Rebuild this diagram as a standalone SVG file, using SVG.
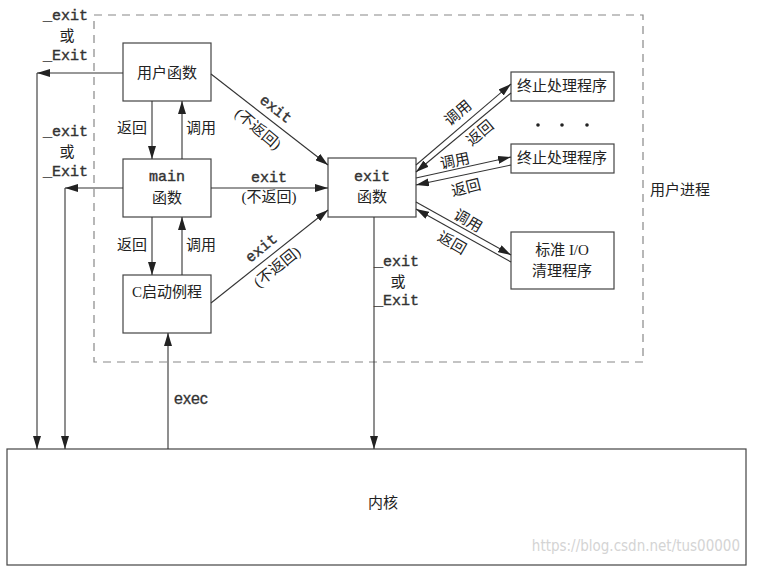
<svg xmlns="http://www.w3.org/2000/svg" width="761" height="571" viewBox="0 0 761 571">
<defs>
<marker id="ah" markerUnits="userSpaceOnUse" markerWidth="13" markerHeight="8" refX="13" refY="4" orient="auto">
<path d="M0,0 L13,4 L0,8 z" fill="#222"/>
</marker>
<style>
.box{fill:#fff;stroke:#444;stroke-width:1.2}
.ln{fill:none;stroke:#333;stroke-width:1.1}
.ar{fill:none;stroke:#333;stroke-width:1.1;marker-end:url(#ah)}
.cn{font-family:"Liberation Serif","Noto Sans CJK SC",serif;font-size:15px;fill:#222}
.mo{font-family:"Liberation Mono","DejaVu Sans Mono",monospace;font-size:15px;fill:#333;stroke:#333;stroke-width:0.4}
.c{text-anchor:middle}
.m{dominant-baseline:central}
</style>
</defs>
<rect width="761" height="571" fill="#fff"/>

<g id="userprocess">
<rect x="94" y="15" width="549" height="347" fill="none" stroke="#888" stroke-width="1.2" stroke-dasharray="8,6"/>
<text class="cn" x="650" y="195">用户进程</text>
</g>

<g id="kernel">
<rect class="box" x="7" y="449" width="739" height="116"/>
<text class="cn c m" x="383" y="503">内核</text>
</g>

<g id="userfunc">
<rect class="box" x="123" y="43" width="88" height="58"/>
<text class="cn c m" x="167" y="73">用户函数</text>
</g>

<g id="main">
<rect class="box" x="123" y="159" width="88" height="58"/>
<text class="mo c m" x="167" y="177">main</text>
<text class="cn c m" x="167" y="198">函数</text>
</g>

<g id="cstart">
<rect class="box" x="123" y="275" width="88" height="58"/>
<text class="cn c m" x="167" y="292">C启动例程</text>
</g>

<g id="exitfunc">
<rect class="box" x="328" y="158" width="88" height="59"/>
<text class="mo c m" x="372" y="177">exit</text>
<text class="cn c m" x="372" y="197">函数</text>
</g>

<g id="handler1">
<rect class="box" x="511" y="72" width="103" height="29"/>
<text class="cn c m" x="562" y="86">终止处理程序</text>
</g>

<g id="dots">
<circle cx="538" cy="125" r="1.8" fill="#222"/>
<circle cx="562" cy="125" r="1.8" fill="#222"/>
<circle cx="587" cy="125" r="1.8" fill="#222"/>
</g>

<g id="handler2">
<rect class="box" x="511" y="144" width="103" height="29"/>
<text class="cn c m" x="562" y="158">终止处理程序</text>
</g>

<g id="stdio">
<rect class="box" x="511" y="232" width="103" height="57"/>
<text class="cn c m" x="562" y="250">标准 I/O</text>
<text class="cn c m" x="562" y="271">清理程序</text>
</g>

<g id="connectors">
<path class="ar" d="M123,73 L37,73"/>
<path class="ar" d="M37,73 L37,449"/>
<text class="mo" x="43" y="20">_exit</text>
<text class="cn c" x="67" y="41">或</text>
<text class="mo" x="43" y="60">_Exit</text>
<path class="ar" d="M123,188 L65,188"/>
<path class="ar" d="M65,188 L65,449"/>
<text class="mo" x="43" y="136">_exit</text>
<text class="cn c" x="67" y="157">或</text>
<text class="mo" x="43" y="176">_Exit</text>
<path class="ar" d="M152,101 L152,159"/>
<path class="ar" d="M182,159 L182,101"/>
<text class="cn c m" x="132" y="128">返回</text>
<text class="cn c m" x="201" y="128">调用</text>
<path class="ar" d="M152,217 L152,275"/>
<path class="ar" d="M182,275 L182,217"/>
<text class="cn c m" x="132" y="245">返回</text>
<text class="cn c m" x="201" y="245">调用</text>
<path class="ar" d="M168,449 L168,333"/>
<text x="174" y="404" style="font-family:'Liberation Sans',Arial,sans-serif;font-size:16px;fill:#333;stroke:#333;stroke-width:0.3">exec</text>
<path class="ar" d="M211,74 L328,165"/>
<text class="mo c m" transform="translate(275,110) rotate(38)">exit</text>
<text class="cn c m" transform="translate(258,129) rotate(40)">(不返回)</text>
<path class="ar" d="M211,188 L328,188"/>
<text class="mo c m" x="269" y="178">exit</text>
<text class="cn c m" x="269" y="197">(不返回)</text>
<path class="ar" d="M211,303 L328,210"/>
<text class="mo c m" transform="translate(262,249) rotate(-39)">exit</text>
<text class="cn c m" transform="translate(277,267) rotate(-39)">(不返回)</text>
<path class="ar" d="M374,217 L374,449"/>
<text class="mo" x="374" y="266">_exit</text>
<text class="cn c" x="398" y="287">或</text>
<text class="mo" x="374" y="305">_Exit</text>
<path class="ar" d="M416,165 L511,84"/>
<path class="ar" d="M511,93 L416,172"/>
<text class="cn c m" transform="translate(458,113) rotate(-40)">调用</text>
<text class="cn c m" transform="translate(480,133) rotate(-40)">返回</text>
<path class="ar" d="M416,178 L511,157"/>
<path class="ar" d="M511,165 L416,185"/>
<text class="cn c m" transform="translate(455,161) rotate(-12)">调用</text>
<text class="cn c m" transform="translate(466,188) rotate(-14)">返回</text>
<path class="ar" d="M416,202 L511,255"/>
<path class="ar" d="M511,262 L416,209"/>
<text class="cn c m" transform="translate(468,221) rotate(30)">调用</text>
<text class="cn c m" transform="translate(452,243) rotate(30)">返回</text>
</g>

<text x="740" y="551" text-anchor="end" style="font-family:'DejaVu Sans Condensed','Liberation Sans',sans-serif;font-size:15px;fill:#d4d4d4">https://blog.csdn.net/tus00000</text>
</svg>
